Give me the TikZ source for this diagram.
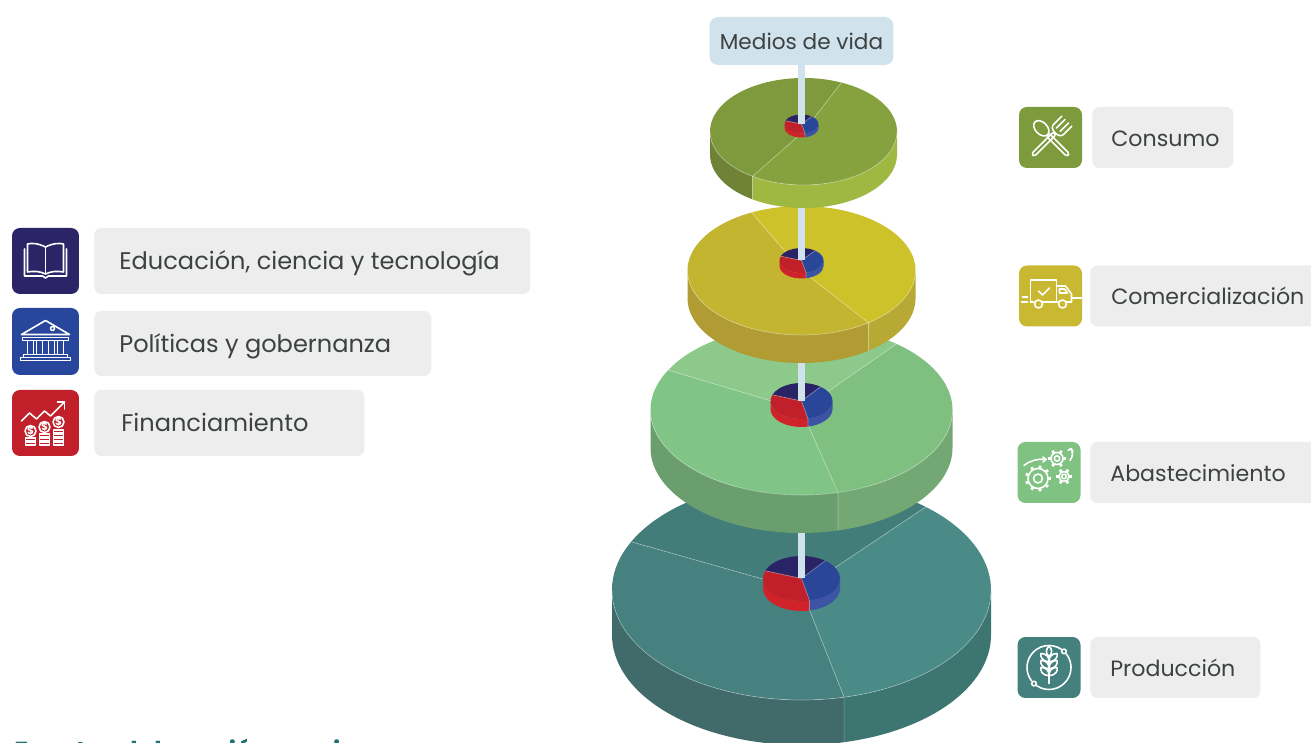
\documentclass[tikz,border=0pt]{standalone}
\usepackage{fontspec}
\setmainfont{Poppins}

\definecolor{tagGray}{HTML}{EEEDEE}
\definecolor{txtGray}{HTML}{3C4242}
\definecolor{poleBlue}{HTML}{D0E2EB}
\definecolor{srcTeal}{HTML}{1F6F73}
% disk colours
\definecolor{oliveL}{HTML}{7E9A3C}
\definecolor{oliveR}{HTML}{86A23E}
\definecolor{oliveSideL}{HTML}{708236}
\definecolor{oliveSideR}{HTML}{9EB842}
\definecolor{yelL}{HTML}{C4B531}
\definecolor{yelR}{HTML}{CDC229}
\definecolor{yelSideL}{HTML}{B09C33}
\definecolor{yelSideR}{HTML}{B8A934}
\definecolor{grnB}{HTML}{8DC98B}
\definecolor{grnL}{HTML}{80C585}
\definecolor{grnR}{HTML}{7FBF7F}
\definecolor{grnSideL}{HTML}{6B9E6E}
\definecolor{grnSideR}{HTML}{73A773}
\definecolor{tealB}{HTML}{427D7A}
\definecolor{tealL}{HTML}{47817F}
\definecolor{tealR}{HTML}{4A8A87}
\definecolor{tealSideL}{HTML}{416B6A}
\definecolor{tealSideR}{HTML}{3D7571}
\definecolor{pieNavy}{HTML}{2A2466}
\definecolor{pieRed}{HTML}{C1202A}
\definecolor{pieBlue}{HTML}{2A4699}
\definecolor{pieRedSide}{HTML}{CF2229}
\definecolor{pieBlueSide}{HTML}{3C54A3}
% icon colours
\definecolor{eduNavy}{HTML}{2B2466}
\definecolor{polBlue}{HTML}{28469B}
\definecolor{finRed}{HTML}{C1202A}
\definecolor{consGreen}{HTML}{7D9A3D}
\definecolor{comYellow}{HTML}{C9B932}
\definecolor{abaGreen}{HTML}{80C281}
\definecolor{prodTeal}{HTML}{44807D}

% point on the rim of the current ellipse
\newcommand{\rim}[1]{({\rx*cos(#1)},{\ry*sin(#1)})}
\newcommand{\topslice}[3]{\fill[#3] (0,0) -- \rim{#1} arc[start angle=#1, end angle=#2, x radius=\rx, y radius=\ry] -- cycle;}
\newcommand{\sideslice}[3]{\fill[#3] \rim{#1} arc[start angle=#1, end angle=#2, x radius=\rx, y radius=\ry] -- ++(0,-\hh) arc[start angle=#2, end angle=#1, x radius=\rx, y radius=\ry] -- cycle;}
\newcommand{\rimline}{\draw[seamline] \rim{180} arc[start angle=180, end angle=360, x radius=\rx, y radius=\ry];}
\newcommand{\minipie}{%
  \sideslice{180}{282}{pieRedSide}
  \sideslice{282}{360}{pieBlueSide}
  \topslice{52}{160}{pieNavy}
  \topslice{160}{282}{pieRed}
  \topslice{282}{412}{pieBlue}
  \draw[seamline] (0,0) -- \rim{52} (0,0) -- \rim{160} (0,0) -- \rim{282} -- ++(0,-\hh);}

\tikzset{
  seamline/.style={draw=white, draw opacity=0.35, line width=0.4pt},
  pole/.style={draw=poleBlue, line width=0.14cm},
  medios/.style={fill=poleBlue, rounded corners=5pt, minimum width=3.68cm, minimum height=0.96cm, inner sep=0pt, text=txtGray, font=\fontsize{12.3}{14}\selectfont},
  iconbox/.style={rounded corners=4.5pt, minimum width=1.26cm, minimum height=1.22cm, inner sep=0pt},
  tag/.style={fill=tagGray, rounded corners=4pt, minimum height=1.22cm, inner sep=0pt, anchor=west},
  tagtext/.style={text=txtGray, font=\fontsize{12.6}{15}\selectfont, inner sep=0pt, anchor=base west},
  tagtextL/.style={tagtext, font=\fontsize{13.7}{16}\selectfont},
  iconline/.style={color=white, line width=0.9pt, line cap=round, line join=round},
}

\begin{document}
\begin{tikzpicture}[x=0.02cm, y=0.02cm]
	\path[use as bounding box, clip] (0,0) rectangle (1311,743);
	\fill[white] (0,0) rectangle (1311,743);

	\node[medios] (medios) at (801.5,702) {Medios de vida};

	% Producción
	\coordinate (c4) at (801.5,153);
	\coordinate (p4) at (801.5,164.5);
	\begin{scope}[shift={(c4)}]
		\def\rx{189.5}\def\ry{110}\def\hh{45}
		\sideslice{180}{283}{tealSideL}
		\sideslice{283}{360}{tealSideR}
		\topslice{49}{154}{tealB}
		\topslice{154}{283}{tealL}
		\topslice{283}{409}{tealR}
		\draw[seamline] (0,0) -- \rim{49} (0,0) -- \rim{154} (0,0) -- \rim{283} -- ++(0,-\hh);
		\rimline
	\end{scope}
	\begin{scope}[shift={(p4)}]
		\def\rx{38.5}\def\ry{22.5}\def\hh{10}
		\minipie
	\end{scope}
	\draw[pole] (medios.south) -- (p4);

	% Abastecimiento
	\coordinate (c3) at (801.5,333);
	\coordinate (p3) at (801.5,342);
	\begin{scope}[shift={(c3)}]
		\def\rx{151}\def\ry{85}\def\hh{38}
		\sideslice{180}{284}{grnSideL}
		\sideslice{284}{360}{grnSideR}
		\topslice{51}{152}{grnB}
		\topslice{152}{284}{grnL}
		\topslice{284}{411}{grnR}
		\draw[seamline] (0,0) -- \rim{51} (0,0) -- \rim{152} (0,0) -- \rim{284} -- ++(0,-\hh);
		\rimline
	\end{scope}
	\begin{scope}[shift={(p3)}]
		\def\rx{31}\def\ry{18}\def\hh{8}
		\minipie
	\end{scope}
	\draw[pole] (medios.south) -- (p3);

	% Comercialización
	\coordinate (c2) at (801.5,472.5);
	\coordinate (p2) at (801.5,482.5);
	\begin{scope}[shift={(c2)}]
		\def\rx{114}\def\ry{64.5}\def\hh{28}
		\sideslice{180}{306}{yelSideL}
		\sideslice{306}{360}{yelSideR}
		\topslice{116}{306}{yelL}
		\topslice{306}{476}{yelR}
		\draw[seamline] (0,0) -- \rim{116} (0,0) -- \rim{306} -- ++(0,-\hh);
		\rimline
	\end{scope}
	\begin{scope}[shift={(p2)}]
		\def\rx{22}\def\ry{12.5}\def\hh{5.5}
		\minipie
	\end{scope}
	\draw[pole] (medios.south) -- (p2);

	% Consumo
	\coordinate (c1) at (803.5,611.5);
	\coordinate (p1) at (801.5,619);
	\begin{scope}[shift={(c1)}]
		\def\rx{93.5}\def\ry{53.5}\def\hh{23}
		\sideslice{180}{237}{oliveSideL}
		\sideslice{237}{360}{oliveSideR}
		\topslice{66}{237}{oliveL}
		\topslice{237}{426}{oliveR}
		\draw[seamline] (0,0) -- \rim{66} (0,0) -- \rim{237} -- ++(0,-\hh);
		\rimline
	\end{scope}
	\begin{scope}[shift={(p1)}]
		\def\rx{17}\def\ry{9.5}\def\hh{4}
		\minipie
	\end{scope}
	\draw[pole] (medios.south) -- (p1);

	% left column
	\node[iconbox, fill=eduNavy, minimum width=1.34cm, minimum height=1.32cm] (eduicon) at (45.5,482) {};
	\node[tag, minimum width=8.72cm, minimum height=1.32cm] (edubox) at (94,482) {};
	\node[tagtextL] (edutext) at ([xshift=0.5cm, yshift=-0.18cm]edubox.west) {Educación, ciencia y tecnología};

	\node[iconbox, fill=polBlue, minimum width=1.34cm, minimum height=1.34cm] (policon) at (45.5,401.5) {};
	\node[tag, minimum width=6.74cm, minimum height=1.3cm] (polbox) at (94,399.5) {};
	\node[tagtextL] (poltext) at ([xshift=0.5cm, yshift=-0.18cm]polbox.west) {Políticas y gobernanza};

	\node[iconbox, fill=finRed, minimum width=1.34cm, minimum height=1.32cm] (finicon) at (45.5,320) {};
	\node[tag, minimum width=5.4cm, minimum height=1.32cm] (finbox) at (94,320) {};
	\node[tagtextL] (fintext) at ([xshift=0.54cm, yshift=-0.18cm]finbox.west) {Financiamiento};

	% right column
	\node[iconbox, fill=consGreen] (consicon) at (1050.5,605.5) {};
	\node[tag, minimum width=2.82cm] (consbox) at (1092,605.5) {};
	\node[tagtext] (constext) at ([xshift=0.38cm, yshift=-0.175cm]consbox.west) {Consumo};

	\node[iconbox, fill=comYellow] (comicon) at (1050.5,447) {};
	\node[tag, minimum width=4.8cm] (combox) at (1090,447) {};
	\node[tagtext] (comtext) at ([xshift=0.42cm, yshift=-0.175cm]combox.west) {Comercialización};

	\node[iconbox, fill=abaGreen] (abaicon) at (1049,270.5) {};
	\node[tag, minimum width=4.8cm] (ababox) at (1090,270.5) {};
	\node[tagtext] (abatext) at ([xshift=0.4cm, yshift=-0.175cm]ababox.west) {Abastecimiento};

	\node[iconbox, fill=prodTeal] (prodicon) at (1049,75.5) {};
	\node[tag, minimum width=3.4cm] (prodbox) at (1090,75.5) {};
	\node[tagtext] (prodtext) at ([xshift=0.4cm, yshift=-0.175cm]prodbox.west) {Producción};

	% book
	\begin{scope}[shift={(eduicon.center)}, iconline]
		\draw (-21,12) -- (-21,-15) -- (-3,-15) -- (0,-17) -- (3,-15) -- (21,-15) -- (21,12);
		\draw (0,-13) -- (0,14);
		\draw (0,14) .. controls (-8,18) and (-14,18) .. (-18,17) -- (-18,-11) .. controls (-12,-10) and (-6,-10) .. (0,-13) .. controls (6,-10) and (12,-10) .. (18,-11) -- (18,17) .. controls (14,18) and (8,18) .. (0,14);
	\end{scope}
	% bank
	\begin{scope}[shift={(policon.center)}, iconline]
		\draw (-24,7) -- (0,21) -- (24,7) -- cycle;
		\draw (7,13) circle (2);
		\draw (-23,4) rectangle (23,1);
		\foreach \cx in {-15,-6,6,15}
			\draw (\cx-3,1) rectangle (\cx+3,-13);
		\draw (-22,-13) rectangle (22,-16);
		\draw (-25,-16) rectangle (25,-19);
	\end{scope}
	% money
	\begin{scope}[shift={(finicon.center)}, iconline]
		\draw (-24,2) -- (-16,10) -- (-9,4) -- (-1,12) -- (5,7) -- (19,21);
		\draw (12,21) -- (19,21) -- (19,14);
		\foreach \cx/\cy/\k in {-15/-8/a, -1/-4/b, 13/1/c} {
			\draw (\cx,\cy) circle (5.5);
			\node[text=white, font=\fontsize{6}{6}\selectfont\bfseries, inner sep=0pt] (coin\k) at (\cx,\cy) {\$};
		}
		\foreach \y in {-15,-19} \draw (-20,\y) rectangle (-10,\y-3);
		\foreach \y in {-11,-15,-19} \draw (-6,\y) rectangle (4,\y-3);
		\foreach \y in {-7,-11,-15,-19} \draw (8,\y) rectangle (18,\y-3);
	\end{scope}
	% spoon and fork
	\begin{scope}[shift={(consicon.center)}, iconline]
		\begin{scope}[rotate=45]
			\draw (0,13) ellipse (6 and 9);
			\draw[rounded corners=1.5] (-2,4) rectangle (2,-25);
		\end{scope}
		\begin{scope}[rotate=-45]
			\draw (-7,23) -- (-7,11) .. controls (-7,5) and (7,5) .. (7,11) -- (7,23);
			\draw (-2.5,11) -- (-2.5,23) (2.5,11) -- (2.5,23);
			\draw[rounded corners=1.5] (-2,6) rectangle (2,-25);
		\end{scope}
	\end{scope}
	% truck
	\begin{scope}[shift={(comicon.center)}, iconline]
		\draw (-20,-6) -- (-20,16) -- (6,16) -- (6,-6);
		\draw (-12,5) -- (-8,1) -- (-1,8);
		\draw (6,10) -- (15,10) -- (21,2) -- (21,-6) -- (16,-6);
		\draw (9,7) -- (14,7) -- (17,3) -- (9,3) -- cycle;
		\draw (8,-6) -- (-8,-6) (-20,-6) -- (-17,-6);
		\draw (-12,-8) circle (4) (12,-8) circle (4);
		\draw (-28,-1) -- (-23,-1) (-29,-6) -- (-23,-6) (21,-2) -- (31,-2);
	\end{scope}
	% gears
	\begin{scope}[shift={(abaicon.center)}, iconline]
		\foreach \gx/\gy/\r/\n in {-11/-6/10/40, 8/14/6/60, 15/-4/5/60} {
			\draw (\gx,\gy) circle (\r);
			\draw (\gx,\gy) circle (\r*0.45);
			\foreach \a in {0,\n,...,359}
				\draw[line width=1.6pt, line cap=butt] ({\gx+\r*cos(\a)},{\gy+\r*sin(\a)}) -- ({\gx+(\r+3)*cos(\a)},{\gy+(\r+3)*sin(\a)});
		}
		\draw (-25,7) .. controls (-19,12) and (-11,14) .. (-3,13);
		\draw (-6,15.5) -- (-3,13) -- (-6,10.5);
		\draw (21,12) .. controls (24,16) and (24,20) .. (22,24);
		\draw (19,22) -- (22,24) -- (24,21);
	\end{scope}
	% wheat
	\begin{scope}[shift={(prodicon.center)}, iconline]
		\draw ({22*cos(56)},{22*sin(56)}) arc[start angle=56, end angle=218, radius=22];
		\draw ({22*cos(236)},{22*sin(236)}) arc[start angle=236, end angle=398, radius=22];
		\draw ({22*cos(47)},{22*sin(47)}) circle (2.3) ({22*cos(227)},{22*sin(227)}) circle (2.3);
		\draw (0,-16) -- (0,12);
		\foreach \y in {-8,-1,6} {
			\draw (0,\y) .. controls (-7,\y) and (-9,\y+5) .. (-8,\y+8) .. controls (-3,\y+8) and (0,\y+5) .. (0,\y);
			\draw (0,\y) .. controls (7,\y) and (9,\y+5) .. (8,\y+8) .. controls (3,\y+8) and (0,\y+5) .. (0,\y);
		}
		\draw (0,11) .. controls (-4,14) and (-3,19) .. (0,21) .. controls (3,19) and (4,14) .. (0,11);
	\end{scope}

	% source line, cut by the lower edge as in the original
	\node[anchor=base west, inner sep=0pt, text=srcTeal, font=\fontsize{14}{16}\selectfont\bfseries] (fuente) at (14,-17) {Fuente: elaboración propia};
\end{tikzpicture}
\end{document}
